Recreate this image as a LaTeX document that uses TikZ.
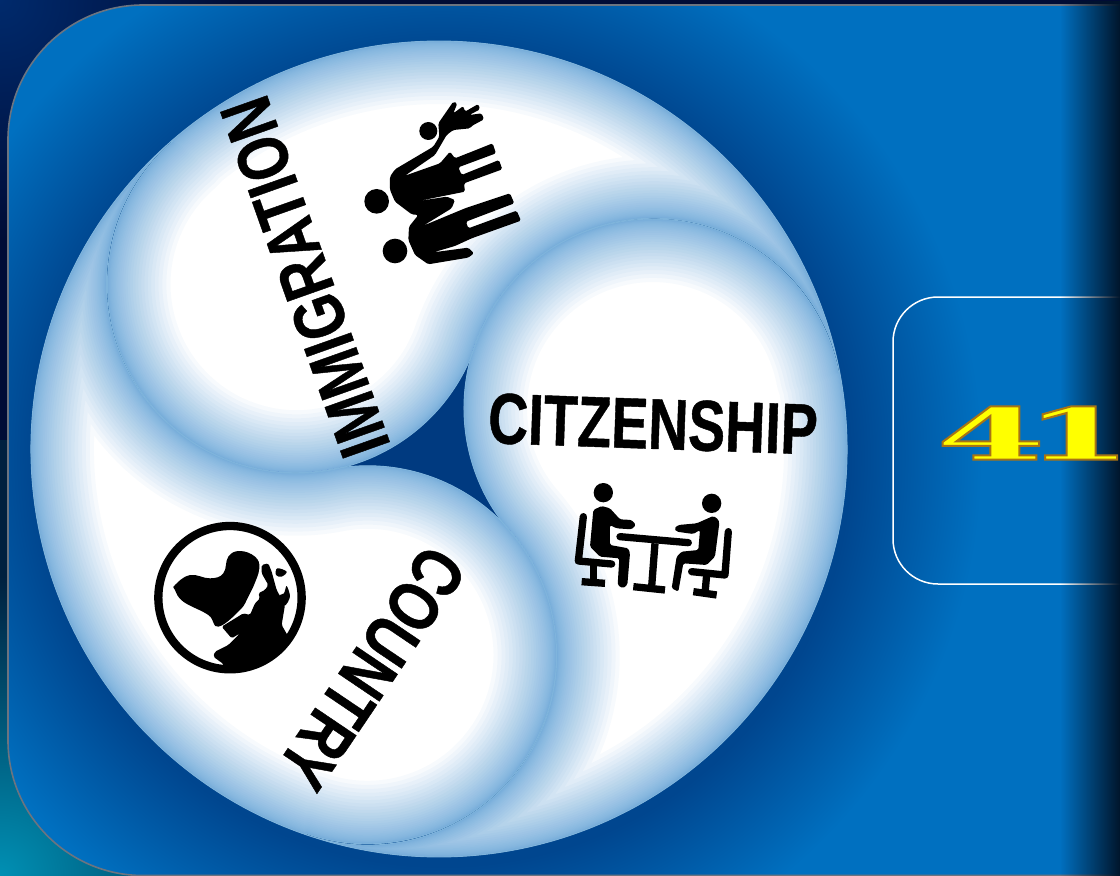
\documentclass[tikz,border=0pt]{standalone}
\usepackage{fontspec}
\usetikzlibrary{fadings}
\newfontfamily\lab[FakeStretch=0.77,FakeBold=0.6]{Liberation Sans Bold}
\newfontfamily\num[FakeStretch=2.18]{DejaVu Serif Bold}
\definecolor{bgnavy}{HTML}{000C36}
\definecolor{bgcorner}{HTML}{002A6C}
\definecolor{bgteal}{HTML}{0090B4}
\definecolor{bgteald}{HTML}{00203F}
\definecolor{panel}{HTML}{0070C0}
\definecolor{halo}{HTML}{00468F}
\definecolor{rimgrey}{HTML}{6C7480}
\definecolor{hub}{HTML}{003A80}
\definecolor{h3}{HTML}{7FB4DC}
\definecolor{glowblue}{HTML}{4A97D5}
\definecolor{edgeshade}{HTML}{00152B}
\definecolor{numfill}{HTML}{FFFF00}
\pgfdeclareradialshading{haloshade}{\pgfpoint{0bp}{0bp}}{color(0bp)=(halo); color(17bp)=(halo); color(22.5bp)=(panel); color(50bp)=(panel)}
\pgfdeclareradialshading{cornerA}{\pgfpoint{0bp}{0bp}}{color(0bp)=(bgcorner); color(25bp)=(bgnavy); color(50bp)=(bgnavy)}
\pgfdeclareradialshading{cornerB}{\pgfpoint{0bp}{0bp}}{color(0bp)=(bgteal); color(25bp)=(bgteald); color(50bp)=(bgteald)}
\newcommand{\bladepath}{(171.3,141.1) arc[start angle=229,end angle=349,radius=408] arc[start angle=349,end angle=199,radius=189] arc[start angle=19,end angle=229,radius=189] -- cycle}
\tikzset{
  lbl/.style={font=\lab\fontsize{72}{72}\selectfont, text=black, inner sep=0pt},
  glowline/.style={draw=glowblue, draw opacity=.045, line join=round},
  iconline/.style={line width=7.3pt, draw=black},
  roundline/.style={iconline, line cap=round, line join=round},
  blob/.style={fill=black, rounded corners=1.6pt}
}
\begin{document}
\begin{tikzpicture}[x=1pt,y=-1pt]
\useasboundingbox (0,0) rectangle (1120,876);
% page background
\fill[bgnavy] (0,0) rectangle (1120,876);
\begin{scope}
  \clip (0,0) rectangle (1120,440);
  \shade[shading=cornerA] (0,0) circle (240);
\end{scope}
\begin{scope}
  \clip (0,440) rectangle (1120,876);
  \fill[bgteald] (0,440) rectangle (200,876);
  \shade[shading=cornerB] (0,876) circle (300);
\end{scope}
% main panel
\begin{scope}
  \clip (8,140) arc[start angle=180,end angle=270,radius=135] -- (1130,5) -- (1130,876) -- (143,875.5) arc[start angle=90,end angle=180,radius=135] -- cycle;
  \fill[panel] (0,0) rectangle (1130,880);
  \shade[shading=haloshade] (442,458) circle (600);
\end{scope}
\draw[rimgrey, line width=1.6pt] (1130,5) -- (143,5) arc[start angle=270,end angle=180,radius=135] -- (8,740.5) arc[start angle=180,end angle=90,radius=135] -- (1130,875.5);
% swirl: hub and three blades
\fill[hub] (474.7,345.5) -- (510.9,531.6) -- (331.5,469.9) -- cycle;
\foreach \ang in {0,120,240}{
  \begin{scope}[rotate around={-\ang:(439,449)}]
    \begin{scope}
      \clip \bladepath;
      \fill[white] (-400,-400) rectangle (1500,1300);
      \foreach \ii in {1,...,30}{
        \draw[glowline, line width=0.14*\ii*\ii pt] \bladepath;
      }
    \end{scope}
  \end{scope}
}
\foreach \ang in {0,120,240}{
  \begin{scope}[rotate around={-\ang:(439,449)}]
    \draw[h3, line width=.9pt, line join=round] \bladepath;
  \end{scope}
}
% labels
\node[lbl, rotate=109.5] (immigration) at (305,277) {IMMIGRATION};
\node[lbl, rotate=-2] (citizenship) at (653,424) {CITZENSHIP};
\node[lbl, rotate=-124] (country) at (372,668) {COUNTRY};
% family icon
\begin{scope}[shift={(340,80)},x=0.3333pt,y=-0.3333pt]
  \fill (265,153) circle (27);
  \fill (110,364) circle (37);
  \fill (165,513) circle (37);
  \fill[blob] (165,268) -- (280,200) -- (298,170) -- (295,130) -- (340,65) -- (352,70) -- (340,100) -- (370,78) -- (375,95) -- (415,72) -- (420,88) -- (388,105) -- (425,100) -- (432,118) -- (395,138) -- (390,145) -- (340,150) -- (320,165) -- (285,225) -- (195,287) -- (300,250) -- (330,215) -- (345,235) -- (458,190) -- (468,220) -- (355,262) -- (365,285) -- (477,240) -- (487,268) -- (372,310) -- (375,335) -- (225,365) -- (320,350) -- (345,360) -- (335,385) -- (250,437) -- (375,385) -- (510,340) -- (523,370) -- (378,425) -- (385,445) -- (530,392) -- (543,422) -- (395,475) -- (345,498) -- (280,517) -- (385,503) -- (402,520) -- (385,533) -- (265,553) -- (225,525) -- (205,480) -- (207,440) -- (235,405) -- (215,403) -- (165,365) -- (150,330) -- (150,290) -- cycle;
\end{scope}
% meeting icon
\begin{scope}[shift={(550,460)},x=0.3333pt,y=-0.3333pt]
  \fill (160,98) circle (29);
  \fill (485,130) circle (29);
  \fill[blob] (155,138) -- (180,145) -- (210,178) -- (245,180) -- (258,195) -- (245,208) -- (200,205) -- (180,195) -- (180,255) -- (235,265) -- (240,280) -- (232,375) -- (218,385) -- (203,375) -- (208,295) -- (150,290) -- (120,260) -- (130,150) -- cycle;
  \draw[roundline] (100,170) -- (85,303) -- (185,312);
  \draw[iconline] (130,315) -- (130,365);
  \draw[iconline] (95,365) -- (165,370);
  \draw[roundline] (210,230) -- (415,248);
  \draw[iconline] (315,250) -- (305,380);
  \draw[iconline] (250,380) -- (345,390);
  \fill[blob] (490,168) -- (505,178) -- (508,190) -- (495,290) -- (470,315) -- (400,310) -- (385,395) -- (365,385) -- (380,290) -- (395,275) -- (445,270) -- (450,210) -- (430,222) -- (380,215) -- (373,205) -- (385,195) -- (440,190) -- cycle;
  \draw[roundline] (535,215) -- (525,345) -- (425,335);
  \draw[iconline] (470,345) -- (465,400);
  \draw[iconline] (430,395) -- (500,405);
\end{scope}
% globe icon
\begin{scope}[shift={(140,510)},x=0.3333pt,y=-0.3333pt]
  \draw[black, line width=8.3pt] (270,263) circle (215);
  \fill[black] plot[smooth cycle, tension=.7] coordinates {(105,225) (150,195) (210,205) (250,190) (265,140) (300,123) (345,140) (358,175) (340,230) (325,260) (300,300) (235,350) (205,315) (130,275) (105,240)};
  \begin{scope}
    \clip (270,263) circle (222);
    \fill[blob] (245,350) -- (310,310) -- (330,315) -- (345,280) -- (360,265) -- (355,250) -- (375,240) -- (385,225) -- (365,190) -- (365,165) -- (385,160) -- (395,185) -- (410,240) -- (435,285) -- (425,345) -- (445,380) -- (470,390) -- (400,470) -- (330,490) -- (255,480) -- (250,462) -- (220,440) -- (225,425) -- (265,405) -- (300,370) -- (275,385) -- cycle;
  \end{scope}
  \fill[black] plot[smooth cycle, tension=.6] coordinates {(412,175) (440,185) (425,200) (408,195)};
  \fill[black] plot[smooth cycle, tension=.5] coordinates {(440,228) (450,260) (434,287) (418,258) (432,250)};
\end{scope}
% right hand box
\draw[white, line width=1.5pt] (1130,297) -- (938,297) arc[start angle=270,end angle=180,radius=45] -- (893,539) arc[start angle=180,end angle=90,radius=45] -- (1130,584);
% right edge darkening
\fill[edgeshade, path fading=west] (1060,0) rectangle (1120,876);
\node[inner sep=0pt, text=numfill, font=\num\fontsize{72}{72}\selectfont] (number) at (1022.5,433) {\special{pdf:code q 2 Tr 2 w 0.66 0.45 0.08 RG}4\kern-22pt 1\kern-24pt\special{pdf:code Q}};
\end{tikzpicture}
\end{document}
